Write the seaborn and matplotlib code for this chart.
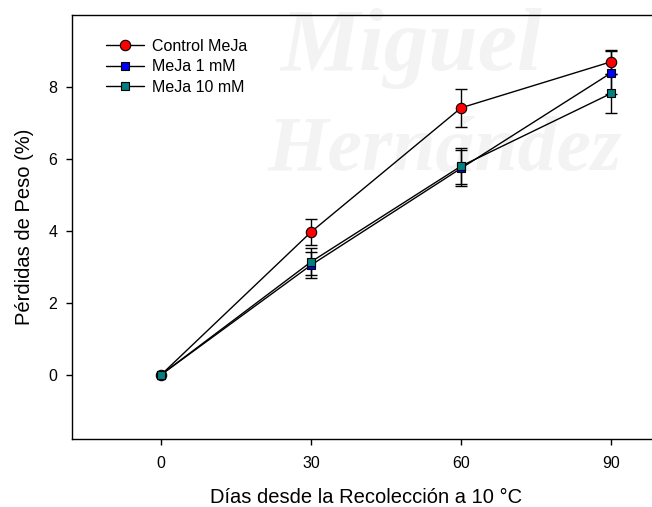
import numpy as np
import pandas as pd
import matplotlib
matplotlib.use('Agg')
import matplotlib.pyplot as plt
import seaborn as sns

# data
dias = [0, 30, 60, 90]
series = ['Control MeJa', 'MeJa 1 mM', 'MeJa 10 mM']
control = [0.0, 3.97, 7.42, 8.70]
control_err = [0.0, 0.36, 0.53, 0.34]
meja1 = [0.0, 3.05, 5.74, 8.39]
meja1_err = [0.0, 0.35, 0.50, 0.60]
meja10 = [0.0, 3.14, 5.80, 7.82]
meja10_err = [0.0, 0.37, 0.50, 0.54]

colores = ['#ff0000', '#0000ff', '#008080']
marcadores = ['o', 's', 's']
tamanos = [7.5, 6.3, 6.3]

df = pd.DataFrame({
    'dia': dias * 3,
    'perdida': control + meja1 + meja10,
    'err': control_err + meja1_err + meja10_err,
    'serie': np.repeat(series, len(dias)),
})

sns.set_style('ticks')
plt.rcParams['font.family'] = ['Liberation Sans', 'DejaVu Sans']
plt.rcParams['text.color'] = 'black'
plt.rcParams['axes.labelcolor'] = 'black'

fig = plt.figure(figsize=(6.52, 5.07), dpi=100)
ax = fig.add_axes([0.110, 0.1347, 0.904, 0.8357])
ax.set_facecolor('none')

# faint watermark of the source document, under the data
wm = dict(family='Liberation Serif', weight='bold', style='italic',
          color='#f3f3f3', zorder=0.2, transform=fig.transFigure,
          clip_on=False)
ax.text(280 / 652, 1 - 70 / 507, 'Miguel', fontsize=64, **wm)
ax.text(268 / 652, 1 - 170 / 507, 'Hernández', fontsize=56, **wm)

for s, c, m, ms in zip(series, colores, marcadores, tamanos):
    sub = df[df['serie'] == s]
    ax.errorbar(sub['dia'][1:], sub['perdida'][1:], yerr=sub['err'][1:],
                fmt='none', ecolor='black', elinewidth=1, capsize=4,
                capthick=1, zorder=1.5)

for s, c, m, ms in zip(series, colores, marcadores, tamanos):
    sub = df[df['serie'] == s]
    sns.lineplot(data=sub, x='dia', y='perdida', ax=ax, color='black',
                 linewidth=1, marker=m, markersize=ms, markerfacecolor=c,
                 markeredgecolor='black', markeredgewidth=0.8, label=s,
                 zorder=3)

ax.set_xlim(-17.9, 100)
ax.set_ylim(-1.78, 10)
ax.set_xticks(dias)
ax.set_yticks([0, 2, 4, 6, 8])
ax.tick_params(direction='out', length=4.5, width=1, labelsize=11.5,
               colors='black')
ax.tick_params(axis='x', pad=8)
ax.tick_params(axis='y', pad=6)
for sp in ['left', 'bottom', 'top']:
    ax.spines[sp].set_color('black')
    ax.spines[sp].set_linewidth(1)
ax.spines['right'].set_visible(False)

ax.set_xlabel('Días desde la Recolección a 10 °C', fontsize=14.5, labelpad=12)
ax.set_ylabel('Pérdidas de Peso (%)', fontsize=14.5, labelpad=10)

leg = ax.legend(loc='upper left', bbox_to_anchor=(0.047, 0.959), frameon=False,
                fontsize=11.5, handlelength=2.4, handletextpad=0.5,
                labelspacing=0.35, borderaxespad=0)
for t in leg.get_texts():
    t.set_color('black')

fig.savefig('out.png', dpi=100)
